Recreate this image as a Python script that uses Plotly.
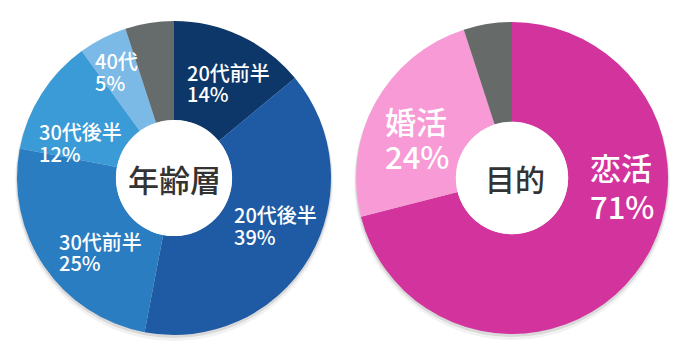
import plotly.graph_objects as go

# ---- data ----
age_labels = ["20代前半", "20代後半", "30代前半", "30代後半", "40代", "その他"]
age_values = [14, 39, 25, 12, 5, 5]
age_colors = ["#0c3768", "#1f5ba5", "#2a7dc1", "#3a9bd7", "#7bb9e6", "#666b6b"]

purpose_labels = ["恋活", "婚活", "その他"]
purpose_values = [71, 24, 5]
purpose_colors = ["#d3339d", "#f89ad5", "#666b6a"]

W, H = 680, 350
FONT = "Noto Sans CJK JP"

# pie geometry (pixels): center x, center y (from top), radius, hole fraction
L_CX, L_CY, L_R, L_HOLE = 174, 178, 157, 0.37
R_CX, R_CY, R_R, R_HOLE = 512, 178, 156, 0.36


def dom(cx, cy, r):
    return dict(x=[(cx - r) / W, (cx + r) / W],
                y=[(H - cy - r) / H, (H - cy + r) / H])


def circ(cx, cy, r, dy=0):
    return dict(x0=(cx - r) / W, x1=(cx + r) / W,
                y0=(H - cy - dy - r) / H, y1=(H - cy - dy + r) / H)


fig = go.Figure()
fig.add_trace(go.Pie(
    labels=age_labels, values=age_values, sort=False, direction="clockwise",
    rotation=0, hole=L_HOLE, textinfo="none", hoverinfo="label+percent",
    marker=dict(colors=age_colors, line=dict(width=0)),
    domain=dom(L_CX, L_CY, L_R), showlegend=False,
))
fig.add_trace(go.Pie(
    labels=purpose_labels, values=purpose_values, sort=False, direction="clockwise",
    rotation=0, hole=R_HOLE, textinfo="none", hoverinfo="label+percent",
    marker=dict(colors=purpose_colors, line=dict(width=0)),
    domain=dom(R_CX, R_CY, R_R), showlegend=False,
))

# label text positions (pixels): left x, name-line center y, percent-line center y
age_label_pos = [(185, 72, 93), (232, 214, 236), (57, 241, 262), (37, 131, 153), (93, 61, 82)]
purpose_label_pos = [(588, 167, 205), (383, 120, 155)]

ann = []


def add_label(name, pct, pos, size):
    x, y1, y2 = pos
    for txt, yy in ((name, y1), (pct, y2)):
        ann.append(dict(x=x / W, y=1 - yy / H, xref="paper", yref="paper",
                        text=txt, showarrow=False, xanchor="left", yanchor="middle",
                        font=dict(family=FONT, size=size, color="white", weight=500)))


for i, pos in enumerate(age_label_pos):
    add_label(age_labels[i], f"{age_values[i]}%", pos, 20)
for i, pos in enumerate(purpose_label_pos):
    add_label(purpose_labels[i], f"{purpose_values[i]}%", pos, 31)

ann.append(dict(x=L_CX / W, y=1 - L_CY / H, xref="paper", yref="paper", text="年齢層",
                showarrow=False, xanchor="center", yanchor="middle",
                font=dict(family=FONT, size=31, color="#333333", weight=500)))
ann.append(dict(x=(R_CX + 3) / W, y=1 - R_CY / H, xref="paper", yref="paper", text="目的",
                showarrow=False, xanchor="center", yanchor="middle",
                font=dict(family=FONT, size=30, color="#333333", weight=500)))

shapes = []
# soft drop shadows under pies
for cx, cy, r in ((L_CX, L_CY, L_R), (R_CX, R_CY, R_R)):
    for dy, dr, a in ((2, 1, 0.10), (4, 2, 0.05)):
        shapes.append(dict(type="circle", xref="paper", yref="paper", layer="below",
                           fillcolor=f"rgba(0,0,0,{a})", line=dict(width=0),
                           **circ(cx, cy, r + dr, dy)))
# white centre discs
for cx, cy, r, h in ((L_CX, L_CY, L_R, L_HOLE), (R_CX, R_CY, R_R, R_HOLE)):
    shapes.append(dict(type="circle", xref="paper", yref="paper", layer="above",
                       fillcolor="white", line=dict(width=0), **circ(cx, cy, r * h)))

fig.update_layout(
    width=W, height=H, margin=dict(l=0, r=0, t=0, b=0),
    paper_bgcolor="white", plot_bgcolor="white",
    annotations=ann, shapes=shapes,
)

fig.write_html("out.html")
